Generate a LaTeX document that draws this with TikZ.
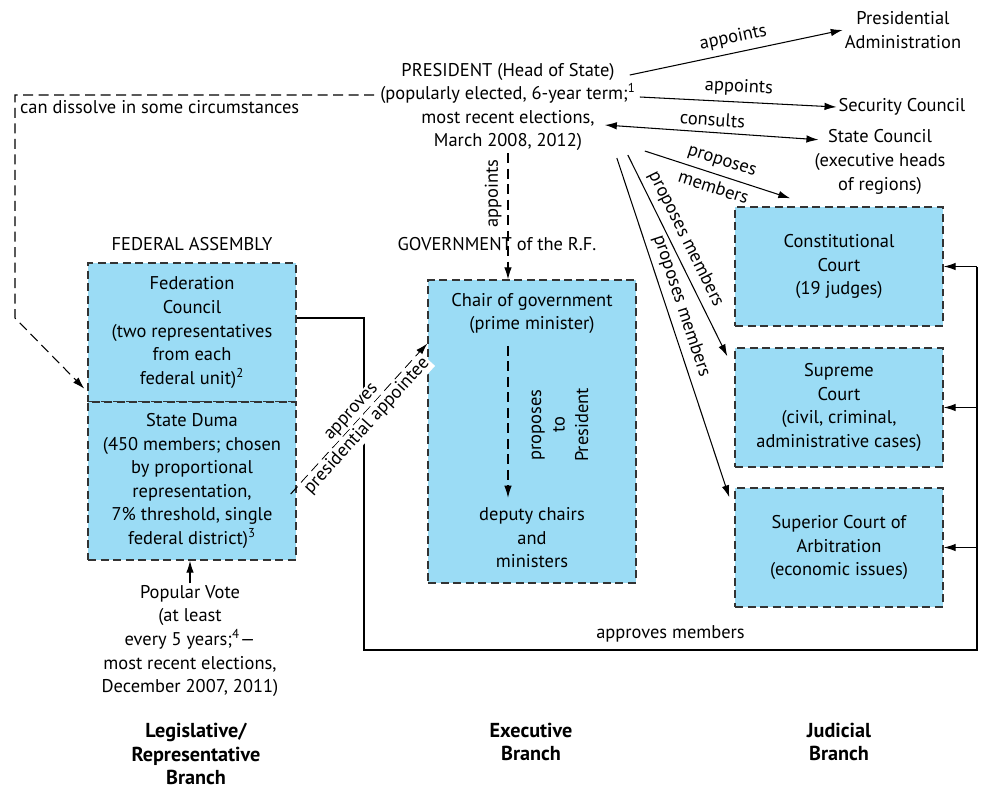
\documentclass[tikz,border=0pt]{standalone}
\usepackage{fontspec}
\setmainfont{PT Sans}
\usetikzlibrary{arrows.meta,calc,positioning}
\definecolor{BoxBlue}{HTML}{9BDCF5}
\definecolor{EdgeGray}{HTML}{333333}
\tikzset{
    box/.style = {draw=EdgeGray, fill=BoxBlue, rectangle,
        dash pattern=on 1.6mm off 0.9mm, line width=0.8pt,
        minimum width=4.16cm, align=center},
    txt/.style = {align=center, inner sep=1pt},
    head/.style = {align=center, font=\fontsize{11.5}{13.2}\selectfont\bfseries},
    arrow/.style = {draw, line width=0.6pt, -{Latex[length=2.4mm,width=1.5mm]}},
    dasharrow/.style = {arrow, dash pattern=on 2mm off 1.1mm},
    cut/.style = {fill=white, inner sep=1pt}
}

\begin{document}
\begin{tikzpicture}[x=0.02cm, y=-0.02cm, font=\fontsize{10.5}{13.4}\selectfont]
    \useasboundingbox (0,0) rectangle (981,788);

    \node [txt, name=pres] at (508,107) {PRESIDENT (Head of State)\\(popularly elected, 6-year term;\textsuperscript{1}\\most recent elections,\\March 2008, 2012)};
    \node [txt, name=padm] at (903,30) {Presidential\\Administration};
    \node [txt, name=secc] at (902,107) {Security Council};
    \node [txt, name=stac] at (880,162) {State Council\\(executive heads\\of regions)};

    \node [txt, name=fedasm] at (192,244) {FEDERAL ASSEMBLY};
    \node [box, minimum height=2.78cm, name=fedc] at (192,332.5) {Federation\\Council\\(two representatives\\from each\\federal unit)\textsuperscript{2}};
    \node [box, minimum height=3.16cm, name=duma] at (192,481) {State Duma\\(450 members; chosen\\by proportional\\representation,\\7\% threshold, single\\federal district)\textsuperscript{3}};
    \node [txt, name=vote] at (190,641) {Popular Vote\\(at least\\every 5 years;\textsuperscript{4}---\\most recent elections,\\December 2007, 2011)};

    \node [txt, name=govt] at (497,244) {GOVERNMENT of the R.F.};
    \node [box, minimum height=6.06cm, name=gov] at (532,431.5) {};
    \node [txt, name=chair] at (532,313.5) {Chair of government\\(prime minister)};
    \node [txt, name=dep] at (532,538) {deputy chairs\\and\\ministers};
    \node [txt, rotate=90, name=prop] at (560,425) {proposes\\to\\President};

    \node [box, minimum height=2.38cm, name=conc] at (839,266.5) {Constitutional\\Court\\(19 judges)};
    \node [box, minimum height=2.38cm, name=supc] at (839,407.5) {Supreme\\Court\\(civil, criminal,\\administrative cases)};
    \node [box, minimum height=2.38cm, name=supa] at (839,547.5) {Superior Court of\\Arbitration\\(economic issues)};

    \node [head, name=legb] at (196,754) {Legislative/\\Representative\\Branch};
    \node [head, name=exeb] at (531,742) {Executive\\Branch};
    \node [head, name=judb] at (839,742) {Judicial\\Branch};

    \coordinate (dbend) at (15,318);
    \coordinate (rbend) at (364,650);
    \coordinate (rail) at (977,650);

    \draw [arrow] ($(pres.east)+(-8,-32)$) -- node [sloped, above] {appoints} (padm.west);
    \draw [arrow] ($(pres.east)+(2,-10)$) -- node [sloped, above] {appoints} (secc.west);
    \draw [arrow, {Latex[length=2.4mm,width=1.5mm]}-{Latex[length=2.4mm,width=1.5mm]}] ($(pres.east)+(-33,18)$) -- node [sloped, above] {consults} ($(stac.north west)+(6,12)$);
    \draw [arrow] ($(pres.south east)+(7,-2)$) -- node [sloped, above] {proposes} node [sloped, below] {members} ($(conc.north west)+(56,-8)$);
    \draw [arrow] ($(pres.south east)+(-10,2)$) -- node [sloped, above, pos=0.45] {proposes members} ($(supc.north west)+(-7,9)$);
    \draw [arrow] ($(pres.south east)+(-21,5)$) -- node [sloped, above, pos=0.45] {proposes members} ($(supa.north west)+(-5,10)$);

    \draw [dasharrow] (pres.south) -- node [pos=0.32, rotate=90, anchor=south] {appoints} (pres.south |- gov.north);
    \draw [dasharrow] ($(chair.south -| pres.south)+(0,10)$) -- ($(dep.north -| pres.south)+(0,-8)$);

    \draw [dasharrow] ($(pres.west)+(-4,-12)$) -| (dbend) -- ($(fedc.south west)+(-3,-14)$);
    \node [txt, anchor=west, name=diss] at (18,107) {can dissolve in some circumstances};

    \draw [line width=0.6pt] ($(fedc.east)+(0,-14.5)$) -| (rbend) -- node [above, yshift=1pt] {approves members} (rail) -- (rail |- conc.east);
    \foreach \c in {conc,supc,supa}{
        \draw [arrow] (rail |- \c.east) -- (\c.east);
    }
    \draw [dasharrow] ($(duma.east)+(-6,13)$) -- node [sloped, above, cut] {approves} node [sloped, below, cut] {presidential appointee} ($(gov.west)+(0,-88)$);
    \draw [arrow] (vote.north) -- (vote.north |- duma.south);
\end{tikzpicture}
\end{document}
